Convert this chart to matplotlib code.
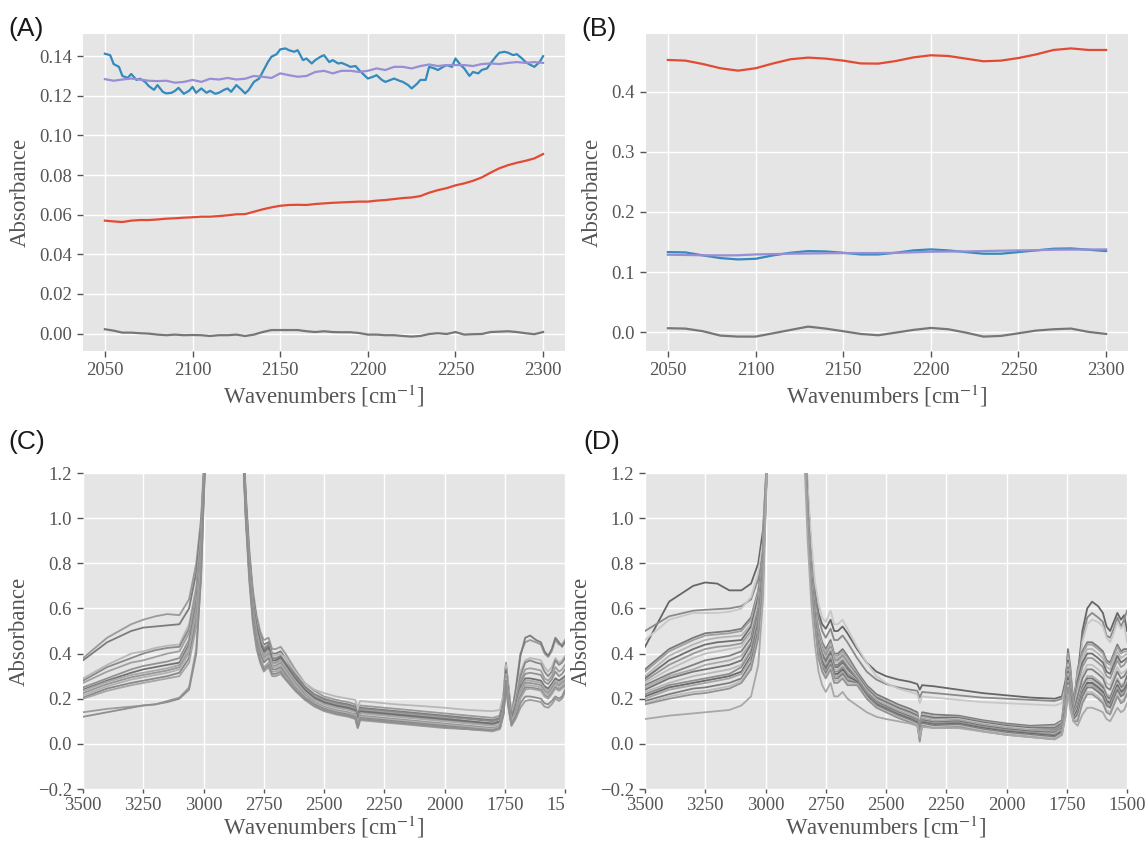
import matplotlib
matplotlib.use('Agg')
import matplotlib.pyplot as plt
from matplotlib.transforms import Bbox, TransformedBbox

# ---------------- data: panel A ----------------
A_BLUE_X = [2050,2053,2055,2058,2060,2063,2065,2068,2070,2073,2075,2078,2080,2083,2085,2088,2090,2092,2095,2098,
            2100,2102,2105,2108,2110,2113,2115,2118,2120,2122,2125,2128,2130,2132,2135,2138,2140,2143,2145,2148,
            2150,2153,2155,2158,2160,2163,2165,2168,2170,2173,2175,2178,2180,2183,2185,2188,2190,2193,2195,2198,
            2200,2203,2205,2208,2210,2213,2215,2218,2220,2223,2225,2228,2230,2233,2235,2238,2240,2243,2245,2248,
            2250,2253,2255,2258,2260,2263,2265,2268,2270,2273,2275,2278,2280,2283,2285,2288,2290,2293,2295,2298,2300]
A_BLUE = [0.1412,0.1405,0.136,0.1346,0.130,0.129,0.131,0.128,0.1286,0.127,0.1249,0.123,0.1254,0.122,0.1212,0.1215,0.1225,0.124,0.121,0.1225,
          0.1245,0.1215,0.1237,0.1215,0.1225,0.121,0.1215,0.123,0.1237,0.122,0.1254,0.123,0.1212,0.1229,0.127,0.1287,0.132,0.137,0.1397,0.141,
          0.1434,0.1439,0.143,0.1422,0.143,0.138,0.1388,0.1363,0.138,0.1397,0.1405,0.137,0.138,0.1363,0.1366,0.1355,0.1346,0.135,0.133,0.1304,
          0.1287,0.1296,0.1304,0.128,0.127,0.128,0.1287,0.1276,0.127,0.1254,0.1237,0.126,0.128,0.128,0.1346,0.1338,0.133,0.1346,0.1355,0.1346,
          0.1388,0.1355,0.1338,0.130,0.132,0.1313,0.133,0.1338,0.1363,0.1397,0.1417,0.1422,0.1417,0.1405,0.141,0.1388,0.137,0.1355,0.1346,0.137,0.140]

A_X = [2050,2055,2060,2065,2070,2075,2080,2085,2090,2095,2100,2105,2110,2115,2120,2125,2130,2135,2140,2145,
       2150,2155,2160,2165,2170,2175,2180,2185,2190,2195,2200,2205,2210,2215,2220,2225,2230,2235,2240,2245,
       2250,2255,2260,2265,2270,2275,2280,2285,2290,2295,2300]
A_PURPLE = [0.1284,0.1276,0.1282,0.1287,0.1282,0.1276,0.1274,0.1276,0.1266,0.127,0.128,0.127,0.1286,0.1282,0.129,0.1282,0.1286,0.130,0.1296,0.129,
            0.1313,0.1304,0.1296,0.130,0.132,0.1326,0.1313,0.1326,0.1326,0.132,0.1326,0.1338,0.133,0.1346,0.1346,0.1338,0.135,0.1358,0.135,0.1355,
            0.1355,0.1355,0.135,0.136,0.1363,0.136,0.1366,0.137,0.1366,0.137,0.1366]
A_RED = [0.057,0.0566,0.0563,0.057,0.0573,0.0573,0.0576,0.058,0.0582,0.0585,0.0587,0.059,0.059,0.0593,0.0597,0.0602,0.0603,0.0615,0.0627,0.0637,
         0.0645,0.0649,0.065,0.0649,0.0654,0.0657,0.066,0.0662,0.0664,0.0666,0.0666,0.0671,0.0674,0.0679,0.0684,0.0687,0.0694,0.0711,0.0724,0.0734,
         0.0748,0.0758,0.0771,0.0788,0.0812,0.0834,0.085,0.0862,0.0872,0.0884,0.0906]
A_GRAY = [0.0022,0.0015,0.0005,0.0005,0.0002,0.0,-0.0005,-0.0008,-0.0005,-0.0008,-0.0007,-0.0008,-0.0012,-0.0008,-0.0008,-0.0005,-0.0012,-0.0005,0.0008,0.0018,
          0.0018,0.0018,0.0018,0.0012,0.0008,0.0012,0.0008,0.0007,0.0007,0.0003,-0.0005,-0.0005,-0.0008,-0.0008,-0.0012,-0.0015,-0.0012,-0.0002,0.0002,-0.0002,
          0.0008,-0.0005,-0.0003,-0.0002,0.0008,0.001,0.0012,0.0008,0.0002,-0.0003,0.0008]

# ---------------- data: panel B ----------------
B_X = [2050,2060,2070,2080,2090,2100,2110,2120,2130,2140,2150,2160,2170,2180,2190,2200,2210,2220,2230,2240,2250,2260,2270,2280,2290,2300]
B_RED = [0.4528,0.4517,0.446,0.439,0.435,0.439,0.447,0.454,0.4567,0.455,0.4517,0.447,0.4467,0.451,0.457,0.4606,0.4594,0.455,0.4506,0.4517,0.456,0.462,0.4694,0.472,0.4694,0.4694]
B_BLUE = [0.1333,0.1328,0.1278,0.1233,0.1211,0.1222,0.1278,0.1322,0.135,0.1344,0.1322,0.1294,0.1294,0.1322,0.1361,0.1378,0.1361,0.1333,0.1306,0.1306,0.1333,0.1361,0.1389,0.1394,0.1372,0.135]
B_PURPLE = [0.1289,0.1285,0.1280,0.1278,0.1280,0.1294,0.1300,0.1306,0.1310,0.1314,0.1317,0.1317,0.1317,0.1320,0.1330,0.1339,0.1342,0.1344,0.1350,0.1356,0.1361,0.1365,0.1372,0.1375,0.1376,0.1378]
B_GRAY = [0.0067,0.0061,0.0017,-0.0056,-0.0072,-0.0072,-0.0017,0.0039,0.0094,0.0061,0.0017,-0.0028,-0.005,-0.0006,0.0039,0.0072,0.005,-0.0006,-0.0072,-0.0061,-0.0017,0.0028,0.005,0.0061,0.0006,-0.0028]

# ---------------- data: panels C and D (common wavenumber grid) ----------------
WN = [3500,3400,3300,3250,3200,3150,3100,3060,3030,3010,2995,
      2980,2940,2900,2860,
      2840,2825,2810,2795,2780,2765,2750,2730,2715,2700,2680,2660,2620,2580,2540,2500,2450,2400,2370,2360,2350,2300,
      2200,2100,2000,1900,1800,1770,1755,1745,1735,1722,1705,1685,1665,1645,1620,1600,1585,1570,1555,1540,1525,1512,1500]

C01 = [0.38,0.47,0.53,0.55,0.565,0.575,0.57,0.64,0.80,1.00,1.30, 2.0,3.0,2.5,2.0,
       1.5,1.12,0.86,0.68,0.57,0.50,0.46,0.47,0.42,0.42,0.43,0.40,0.33,0.27,0.235,0.21,0.195,0.185,0.175,0.13,0.17,0.165,0.155,0.145,0.135,0.125,0.115,0.125,0.22,0.36,0.26,0.13,0.24,0.40,0.45,0.46,0.45,0.44,0.40,0.385,0.41,0.46,0.44,0.44,0.46]
C02 = [0.37,0.45,0.50,0.515,0.52,0.525,0.53,0.60,0.76,0.97,1.28, 2.0,3.0,2.5,2.0,
       1.48,1.1,0.84,0.66,0.55,0.48,0.44,0.45,0.40,0.40,0.41,0.38,0.31,0.255,0.22,0.20,0.185,0.175,0.165,0.12,0.16,0.155,0.145,0.135,0.125,0.115,0.105,0.115,0.21,0.35,0.25,0.12,0.23,0.39,0.47,0.48,0.46,0.45,0.41,0.39,0.42,0.47,0.45,0.43,0.45]
C03 = [0.29,0.35,0.40,0.41,0.425,0.435,0.44,0.53,0.70,0.93,1.26, 2.0,3.0,2.5,2.0,
       1.46,1.08,0.82,0.64,0.54,0.47,0.43,0.44,0.39,0.39,0.40,0.38,0.32,0.27,0.24,0.225,0.21,0.20,0.195,0.16,0.19,0.185,0.175,0.168,0.16,0.15,0.145,0.15,0.22,0.35,0.25,0.13,0.20,0.32,0.37,0.38,0.375,0.37,0.34,0.32,0.34,0.38,0.36,0.37,0.39]
C04 = [0.28,0.34,0.38,0.40,0.415,0.425,0.43,0.51,0.68,0.91,1.25, 2.0,3.0,2.5,2.0,
       1.45,1.07,0.81,0.63,0.53,0.46,0.42,0.44,0.38,0.38,0.39,0.36,0.30,0.25,0.215,0.195,0.18,0.17,0.16,0.11,0.155,0.15,0.14,0.13,0.12,0.11,0.10,0.11,0.19,0.33,0.23,0.12,0.18,0.30,0.36,0.37,0.36,0.355,0.32,0.30,0.32,0.37,0.35,0.36,0.38]
C05 = [0.27,0.32,0.36,0.37,0.385,0.40,0.41,0.49,0.66,0.90,1.25, 2.0,3.0,2.5,2.0,
       1.44,1.06,0.80,0.62,0.52,0.45,0.41,0.43,0.37,0.37,0.385,0.355,0.29,0.24,0.21,0.19,0.175,0.165,0.155,0.10,0.15,0.145,0.135,0.125,0.115,0.10,0.09,0.10,0.18,0.32,0.22,0.11,0.17,0.28,0.33,0.335,0.33,0.325,0.29,0.28,0.30,0.34,0.32,0.33,0.35]
C06 = [0.25,0.29,0.33,0.345,0.355,0.365,0.38,0.46,0.63,0.88,1.24, 2.0,3.0,2.5,2.0,
       1.43,1.05,0.78,0.60,0.50,0.44,0.40,0.42,0.36,0.36,0.375,0.345,0.28,0.235,0.20,0.18,0.165,0.155,0.145,0.095,0.14,0.135,0.125,0.115,0.105,0.095,0.085,0.095,0.17,0.31,0.21,0.10,0.16,0.27,0.31,0.315,0.31,0.305,0.275,0.265,0.285,0.32,0.30,0.31,0.33]
C07 = [0.24,0.28,0.315,0.33,0.34,0.35,0.36,0.44,0.61,0.87,1.24, 2.0,3.0,2.5,2.0,
       1.45,1.08,0.80,0.62,0.52,0.45,0.41,0.43,0.37,0.37,0.385,0.355,0.29,0.24,0.205,0.185,0.17,0.16,0.15,0.105,0.145,0.14,0.13,0.12,0.11,0.10,0.09,0.10,0.17,0.32,0.22,0.11,0.16,0.25,0.29,0.29,0.285,0.28,0.255,0.245,0.265,0.29,0.28,0.29,0.30]
C08 = [0.235,0.275,0.305,0.315,0.325,0.335,0.35,0.43,0.60,0.86,1.23, 2.0,3.0,2.5,2.0,
       1.44,1.06,0.79,0.61,0.50,0.43,0.39,0.41,0.355,0.355,0.37,0.34,0.28,0.23,0.195,0.175,0.16,0.15,0.14,0.09,0.135,0.13,0.12,0.11,0.10,0.09,0.08,0.09,0.16,0.31,0.21,0.10,0.15,0.24,0.28,0.28,0.275,0.27,0.245,0.235,0.255,0.28,0.27,0.28,0.29]
C09 = [0.225,0.265,0.295,0.305,0.315,0.325,0.34,0.41,0.58,0.85,1.23, 2.0,3.0,2.5,2.0,
       1.43,1.05,0.78,0.60,0.49,0.42,0.38,0.40,0.345,0.345,0.36,0.33,0.27,0.22,0.185,0.165,0.15,0.14,0.13,0.085,0.125,0.12,0.11,0.10,0.09,0.08,0.07,0.08,0.15,0.30,0.20,0.09,0.14,0.23,0.27,0.27,0.265,0.26,0.235,0.225,0.245,0.27,0.26,0.27,0.28]
C10 = [0.215,0.255,0.285,0.295,0.305,0.315,0.33,0.40,0.57,0.84,1.22, 2.0,3.0,2.5,2.0,
       1.42,1.04,0.77,0.59,0.48,0.41,0.37,0.39,0.34,0.34,0.35,0.32,0.26,0.21,0.18,0.16,0.145,0.135,0.125,0.08,0.12,0.115,0.105,0.095,0.085,0.075,0.065,0.075,0.15,0.29,0.19,0.09,0.13,0.22,0.26,0.26,0.255,0.25,0.225,0.215,0.235,0.26,0.25,0.26,0.27]
C11 = [0.205,0.245,0.27,0.28,0.29,0.30,0.315,0.38,0.55,0.83,1.22, 2.0,3.0,2.5,2.0,
       1.41,1.03,0.76,0.58,0.47,0.40,0.36,0.38,0.33,0.33,0.34,0.31,0.25,0.205,0.175,0.155,0.14,0.13,0.12,0.075,0.115,0.11,0.10,0.09,0.08,0.07,0.06,0.07,0.14,0.28,0.18,0.085,0.12,0.21,0.25,0.25,0.245,0.24,0.215,0.205,0.225,0.25,0.24,0.25,0.26]
C12 = [0.20,0.235,0.26,0.27,0.28,0.29,0.30,0.36,0.52,0.81,1.21, 2.0,3.0,2.5,2.0,
       1.40,1.02,0.75,0.56,0.45,0.38,0.34,0.36,0.32,0.32,0.33,0.30,0.245,0.20,0.17,0.15,0.135,0.125,0.115,0.07,0.11,0.105,0.095,0.085,0.075,0.065,0.055,0.065,0.13,0.27,0.17,0.08,0.12,0.20,0.24,0.245,0.24,0.235,0.21,0.20,0.22,0.245,0.235,0.245,0.255]
C13 = [0.14,0.155,0.165,0.17,0.175,0.19,0.205,0.25,0.42,0.75,1.20, 2.0,3.0,2.5,2.0,
       1.38,1.00,0.72,0.53,0.42,0.36,0.32,0.34,0.30,0.30,0.31,0.285,0.235,0.195,0.165,0.145,0.13,0.12,0.11,0.07,0.105,0.10,0.09,0.08,0.07,0.065,0.06,0.07,0.13,0.25,0.16,0.08,0.11,0.16,0.19,0.195,0.19,0.185,0.165,0.16,0.175,0.20,0.19,0.20,0.23]
C14 = [0.12,0.14,0.16,0.17,0.175,0.185,0.20,0.24,0.40,0.74,1.20, 2.0,3.0,2.5,2.0,
       1.39,1.01,0.74,0.55,0.44,0.37,0.33,0.35,0.31,0.31,0.32,0.29,0.24,0.20,0.17,0.15,0.135,0.125,0.115,0.075,0.11,0.105,0.095,0.085,0.075,0.065,0.06,0.07,0.14,0.27,0.17,0.085,0.12,0.18,0.21,0.21,0.205,0.20,0.18,0.175,0.19,0.21,0.20,0.21,0.24]
C_SPECTRA = [C01, C02, C03, C04, C05, C06, C07, C08, C09, C10, C11, C12, C13, C14]
C_COLORS = ['#9a9a9a', '#7c7c7c', '#b8b8b8', '#8a8a8a', '#a0a0a0', '#929292', '#707070',
            '#a8a8a8', '#969696', '#b0b0b0', '#888888', '#a5a5a5', '#9c9c9c', '#8e8e8e']

D01 = [0.43,0.63,0.70,0.715,0.71,0.68,0.68,0.71,0.80,0.95,1.25, 2.0,3.0,2.5,2.0,
       1.5,1.12,0.86,0.68,0.58,0.53,0.51,0.55,0.50,0.50,0.52,0.49,0.42,0.36,0.32,0.30,0.285,0.275,0.265,0.24,0.26,0.255,0.24,0.225,0.215,0.205,0.20,0.21,0.28,0.40,0.30,0.19,0.30,0.50,0.60,0.63,0.61,0.58,0.52,0.50,0.54,0.58,0.55,0.57,0.50]
D02 = [0.50,0.565,0.59,0.594,0.597,0.60,0.61,0.64,0.73,0.88,1.24, 2.0,3.0,2.5,2.0,
       1.48,1.1,0.84,0.66,0.56,0.50,0.47,0.51,0.46,0.46,0.48,0.45,0.38,0.32,0.285,0.265,0.25,0.24,0.235,0.205,0.23,0.225,0.215,0.205,0.20,0.195,0.19,0.20,0.27,0.39,0.29,0.18,0.28,0.47,0.56,0.58,0.56,0.54,0.48,0.47,0.51,0.56,0.52,0.55,0.59]
D03 = [0.46,0.55,0.58,0.58,0.58,0.585,0.60,0.65,0.76,0.90,1.25, 2.0,3.0,2.5,2.0,
       1.52,1.15,0.90,0.72,0.62,0.56,0.54,0.59,0.53,0.53,0.55,0.51,0.43,0.36,0.30,0.27,0.245,0.23,0.22,0.18,0.21,0.205,0.195,0.185,0.18,0.175,0.17,0.18,0.25,0.37,0.27,0.16,0.26,0.45,0.53,0.55,0.54,0.52,0.47,0.45,0.49,0.54,0.51,0.53,0.45]
D04 = [0.33,0.42,0.47,0.49,0.495,0.50,0.51,0.56,0.68,0.86,1.24, 2.0,3.0,2.5,2.0,
       1.45,1.05,0.78,0.60,0.51,0.45,0.42,0.46,0.40,0.40,0.42,0.39,0.32,0.26,0.22,0.20,0.175,0.155,0.14,0.08,0.14,0.13,0.125,0.105,0.09,0.08,0.085,0.105,0.25,0.42,0.34,0.165,0.33,0.41,0.45,0.45,0.43,0.41,0.37,0.36,0.40,0.44,0.41,0.42,0.42]
D05 = [0.32,0.41,0.46,0.48,0.485,0.49,0.50,0.55,0.67,0.85,1.24, 2.0,3.0,2.5,2.0,
       1.45,1.05,0.78,0.60,0.50,0.44,0.41,0.45,0.39,0.39,0.41,0.38,0.31,0.25,0.21,0.19,0.165,0.145,0.13,0.07,0.13,0.12,0.12,0.10,0.085,0.075,0.08,0.10,0.24,0.40,0.32,0.16,0.32,0.40,0.44,0.44,0.42,0.40,0.36,0.35,0.39,0.43,0.40,0.41,0.41]
D06 = [0.30,0.39,0.44,0.46,0.47,0.475,0.48,0.53,0.66,0.84,1.23, 2.0,3.0,2.5,2.0,
       1.44,1.04,0.77,0.59,0.49,0.43,0.40,0.44,0.38,0.38,0.40,0.37,0.31,0.25,0.21,0.19,0.165,0.145,0.13,0.06,0.13,0.12,0.115,0.095,0.08,0.07,0.075,0.095,0.23,0.38,0.30,0.155,0.30,0.38,0.42,0.42,0.40,0.38,0.34,0.33,0.37,0.41,0.38,0.39,0.40]
D07 = [0.29,0.37,0.42,0.44,0.45,0.455,0.46,0.52,0.65,0.84,1.23, 2.0,3.0,2.5,2.0,
       1.44,1.04,0.77,0.59,0.48,0.42,0.39,0.43,0.37,0.37,0.39,0.36,0.305,0.245,0.205,0.185,0.16,0.14,0.125,0.05,0.125,0.115,0.115,0.095,0.08,0.07,0.07,0.09,0.22,0.37,0.29,0.15,0.28,0.36,0.40,0.40,0.38,0.36,0.32,0.31,0.35,0.39,0.36,0.37,0.38]
D08 = [0.28,0.35,0.40,0.42,0.43,0.435,0.445,0.50,0.63,0.83,1.23, 2.0,3.0,2.5,2.0,
       1.43,1.03,0.76,0.58,0.48,0.42,0.39,0.43,0.37,0.37,0.39,0.36,0.30,0.24,0.20,0.18,0.155,0.135,0.12,0.04,0.12,0.11,0.11,0.09,0.075,0.065,0.065,0.085,0.21,0.36,0.28,0.145,0.26,0.34,0.38,0.38,0.36,0.34,0.30,0.29,0.33,0.37,0.34,0.35,0.37]
D09 = [0.27,0.33,0.38,0.40,0.41,0.42,0.43,0.49,0.62,0.82,1.22, 2.0,3.0,2.5,2.0,
       1.43,1.03,0.76,0.58,0.47,0.41,0.38,0.42,0.36,0.36,0.38,0.35,0.295,0.235,0.195,0.175,0.15,0.13,0.115,0.03,0.115,0.105,0.11,0.09,0.075,0.065,0.06,0.08,0.21,0.35,0.27,0.14,0.23,0.31,0.35,0.35,0.33,0.31,0.27,0.26,0.30,0.34,0.31,0.32,0.33]
D10 = [0.26,0.31,0.35,0.37,0.38,0.39,0.41,0.47,0.60,0.81,1.22, 2.0,3.0,2.5,2.0,
       1.42,1.02,0.75,0.57,0.46,0.40,0.37,0.41,0.35,0.35,0.37,0.34,0.29,0.23,0.19,0.17,0.145,0.125,0.11,0.05,0.11,0.10,0.105,0.085,0.07,0.06,0.06,0.08,0.20,0.34,0.26,0.14,0.21,0.29,0.33,0.33,0.31,0.29,0.25,0.24,0.28,0.32,0.29,0.30,0.32]
D11 = [0.25,0.30,0.33,0.35,0.36,0.37,0.39,0.45,0.59,0.80,1.22, 2.0,3.0,2.5,2.0,
       1.42,1.02,0.75,0.57,0.45,0.39,0.36,0.40,0.34,0.34,0.36,0.33,0.29,0.23,0.19,0.17,0.145,0.125,0.11,0.02,0.11,0.10,0.105,0.085,0.07,0.06,0.055,0.075,0.19,0.33,0.25,0.135,0.18,0.26,0.30,0.30,0.28,0.26,0.22,0.21,0.25,0.29,0.26,0.27,0.30]
D12 = [0.24,0.29,0.32,0.33,0.34,0.35,0.37,0.44,0.58,0.80,1.21, 2.0,3.0,2.5,2.0,
       1.41,1.01,0.74,0.56,0.45,0.39,0.36,0.40,0.34,0.34,0.36,0.33,0.285,0.225,0.185,0.165,0.14,0.12,0.105,0.045,0.105,0.095,0.10,0.08,0.065,0.055,0.05,0.07,0.185,0.32,0.24,0.13,0.17,0.25,0.29,0.29,0.27,0.25,0.21,0.20,0.24,0.28,0.25,0.26,0.30]
D13 = [0.23,0.27,0.30,0.31,0.32,0.33,0.35,0.42,0.56,0.79,1.21, 2.0,3.0,2.5,2.0,
       1.41,1.01,0.74,0.56,0.44,0.38,0.35,0.39,0.33,0.33,0.35,0.32,0.28,0.22,0.18,0.16,0.135,0.115,0.10,0.04,0.10,0.09,0.095,0.075,0.06,0.05,0.045,0.065,0.18,0.31,0.23,0.125,0.16,0.24,0.28,0.28,0.26,0.24,0.20,0.19,0.23,0.27,0.24,0.25,0.28]
D14 = [0.22,0.26,0.28,0.29,0.30,0.31,0.34,0.41,0.55,0.78,1.21, 2.0,3.0,2.5,2.0,
       1.40,1.00,0.73,0.55,0.43,0.37,0.34,0.38,0.32,0.32,0.34,0.31,0.28,0.22,0.18,0.16,0.135,0.115,0.10,0.01,0.10,0.09,0.095,0.075,0.06,0.05,0.04,0.06,0.17,0.30,0.22,0.12,0.15,0.23,0.27,0.27,0.25,0.23,0.19,0.18,0.22,0.26,0.23,0.24,0.27]
D15 = [0.21,0.25,0.27,0.28,0.29,0.30,0.32,0.39,0.53,0.77,1.20, 2.0,3.0,2.5,2.0,
       1.40,1.00,0.73,0.55,0.42,0.36,0.33,0.37,0.31,0.31,0.33,0.30,0.275,0.215,0.175,0.155,0.13,0.11,0.095,0.035,0.095,0.085,0.09,0.07,0.055,0.045,0.035,0.055,0.16,0.29,0.21,0.115,0.15,0.23,0.27,0.27,0.25,0.23,0.19,0.18,0.22,0.26,0.23,0.24,0.26]
D16 = [0.20,0.24,0.26,0.27,0.28,0.29,0.31,0.38,0.52,0.76,1.20, 2.0,3.0,2.5,2.0,
       1.39,0.99,0.72,0.54,0.41,0.35,0.32,0.36,0.30,0.30,0.32,0.29,0.27,0.21,0.17,0.15,0.125,0.105,0.09,0.03,0.09,0.08,0.085,0.065,0.05,0.04,0.03,0.05,0.155,0.28,0.20,0.11,0.14,0.22,0.26,0.26,0.24,0.22,0.18,0.17,0.21,0.25,0.22,0.23,0.25]
D17 = [0.19,0.22,0.245,0.25,0.26,0.27,0.29,0.36,0.50,0.75,1.20, 2.0,3.0,2.5,2.0,
       1.39,0.99,0.72,0.54,0.40,0.34,0.31,0.35,0.29,0.29,0.31,0.28,0.27,0.21,0.17,0.15,0.125,0.105,0.09,0.03,0.09,0.08,0.085,0.065,0.05,0.04,0.03,0.05,0.15,0.27,0.19,0.11,0.13,0.21,0.25,0.25,0.23,0.21,0.17,0.16,0.20,0.24,0.21,0.22,0.25]
D18 = [0.18,0.21,0.23,0.235,0.245,0.255,0.28,0.34,0.48,0.74,1.20, 2.0,3.0,2.5,2.0,
       1.38,0.98,0.71,0.53,0.39,0.33,0.30,0.34,0.28,0.28,0.30,0.27,0.265,0.205,0.165,0.145,0.12,0.10,0.085,0.025,0.085,0.075,0.08,0.06,0.045,0.035,0.025,0.045,0.14,0.26,0.18,0.105,0.11,0.19,0.23,0.23,0.21,0.19,0.15,0.14,0.18,0.22,0.19,0.20,0.24]
D19 = [0.175,0.20,0.22,0.225,0.235,0.245,0.27,0.33,0.47,0.73,1.20, 2.0,3.0,2.5,2.0,
       1.38,0.98,0.71,0.53,0.38,0.32,0.29,0.33,0.27,0.27,0.29,0.26,0.26,0.20,0.16,0.14,0.115,0.095,0.08,0.02,0.08,0.07,0.075,0.055,0.04,0.03,0.02,0.04,0.135,0.25,0.17,0.10,0.10,0.18,0.22,0.22,0.20,0.18,0.14,0.13,0.17,0.21,0.18,0.19,0.22]
D20 = [0.11,0.125,0.135,0.14,0.145,0.15,0.17,0.21,0.35,0.65,1.18, 2.0,3.0,2.5,2.0,
       1.30,0.90,0.62,0.44,0.32,0.26,0.23,0.27,0.21,0.21,0.23,0.20,0.17,0.14,0.12,0.11,0.10,0.09,0.08,0.03,0.075,0.07,0.07,0.055,0.04,0.03,0.02,0.04,0.12,0.22,0.15,0.10,0.08,0.13,0.16,0.16,0.15,0.14,0.11,0.10,0.13,0.16,0.14,0.15,0.18]
D_SPECTRA = [D01, D02, D03, D04, D05, D06, D07, D08, D09, D10,
             D11, D12, D13, D14, D15, D16, D17, D18, D19, D20]
D_COLORS = ['#666666', '#8a8a8a', '#c8c8c8', '#7a7a7a', '#a0a0a0', '#b5b5b5', '#6f6f6f',
            '#999999', '#c0c0c0', '#808080', '#aaaaaa', '#757575', '#b8b8b8', '#8f8f8f',
            '#696969', '#a5a5a5', '#7d7d7d', '#bcbcbc', '#939393', '#a8a8a8']

# ---------------- styling ----------------
plt.style.use('ggplot')
plt.rcParams['font.family'] = ['Liberation Serif', 'DejaVu Serif']
plt.rcParams['mathtext.fontset'] = 'stix'

TICK_COLOR = '#555555'
W, H = 1148, 843
fig = plt.figure(figsize=(W / 100, H / 100), dpi=100)
fig.patch.set_facecolor('white')


def add_axes_px(left, top, right, bottom):
    return fig.add_axes([left / W, 1 - bottom / H, (right - left) / W, (bottom - top) / H])


def style(ax, ticklen, tickpad, xlabelpad):
    ax.set_facecolor('#E5E5E5')
    ax.grid(True, color='white', linewidth=1.0)
    ax.set_axisbelow(True)
    for s in ax.spines.values():
        s.set_visible(False)
    ax.tick_params(axis='both', which='major', labelsize=13.5, colors=TICK_COLOR,
                   length=4, width=1.0, direction='out', pad=4)
    ax.tick_params(axis='x', length=ticklen, pad=tickpad)
    ax.set_xlabel('Wavenumbers [cm$^{-1}$]', fontsize=16.5, color=TICK_COLOR, labelpad=xlabelpad)
    ax.set_ylabel('Absorbance', fontsize=16.5, color=TICK_COLOR, labelpad=6)


axA = add_axes_px(83, 34, 565, 351)
axB = add_axes_px(646, 34, 1128, 351)
axC = add_axes_px(83, 473, 565, 789)
axD = add_axes_px(645, 473, 1127, 789)

LW = 1.6
RED, BLUE, PURPLE, GRAY = '#E24A33', '#348ABD', '#988ED5', '#777777'

axA.plot(A_X, A_RED, color=RED, lw=LW)
axA.plot(A_BLUE_X, A_BLUE, color=BLUE, lw=LW)
axA.plot(A_X, A_PURPLE, color=PURPLE, lw=LW)
axA.plot(A_X, A_GRAY, color=GRAY, lw=LW)
axA.set_xticks([2050, 2100, 2150, 2200, 2250, 2300])
axA.set_yticks([0.00, 0.02, 0.04, 0.06, 0.08, 0.10, 0.12, 0.14])
axA.set_yticklabels(['%.2f' % v for v in [0.00, 0.02, 0.04, 0.06, 0.08, 0.10, 0.12, 0.14]])
style(axA, 4, 4, 3)

axB.plot(B_X, B_RED, color=RED, lw=LW)
axB.plot(B_X, B_BLUE, color=BLUE, lw=LW)
axB.plot(B_X, B_PURPLE, color=PURPLE, lw=LW)
axB.plot(B_X, B_GRAY, color=GRAY, lw=LW)
axB.set_xticks([2050, 2100, 2150, 2200, 2250, 2300])
axB.set_yticks([0.0, 0.1, 0.2, 0.3, 0.4])
style(axB, 4, 4, 3)

for ax, spectra, colors in ((axC, C_SPECTRA, C_COLORS), (axD, D_SPECTRA, D_COLORS)):
    for y, c in zip(spectra, colors):
        n = min(len(WN), len(y))
        ax.plot(WN[:n], y[:n], color=c, lw=1.3)
    ax.set_xlim(3500, 1500)
    ax.set_ylim(-0.2, 1.2)
    ax.set_xticks([3500, 3250, 3000, 2750, 2500, 2250, 2000, 1750, 1500])
    ax.set_yticks([-0.2, 0.0, 0.2, 0.4, 0.6, 0.8, 1.0, 1.2])
    style(ax, 3, 2.5, 0)

# the C panel is cut at its right edge in the original figure
clip = TransformedBbox(Bbox.from_extents(0, 0, 565 / W, 1), fig.transFigure)
for lbl in axC.get_xticklabels():
    lbl.set_clip_box(clip)
    lbl.set_clip_on(True)

# panel letters
for txt, x, y in (('(A)', 8, 29), ('(B)', 581, 29), ('(C)', 8, 442), ('(D)', 583, 442)):
    fig.text(x / W, 1 - y / H, txt, fontsize=19, color='#1a1a1a', ha='left', va='center',
             family=['Liberation Sans', 'DejaVu Sans'])

fig.savefig('out.png', dpi=100, facecolor='white')
